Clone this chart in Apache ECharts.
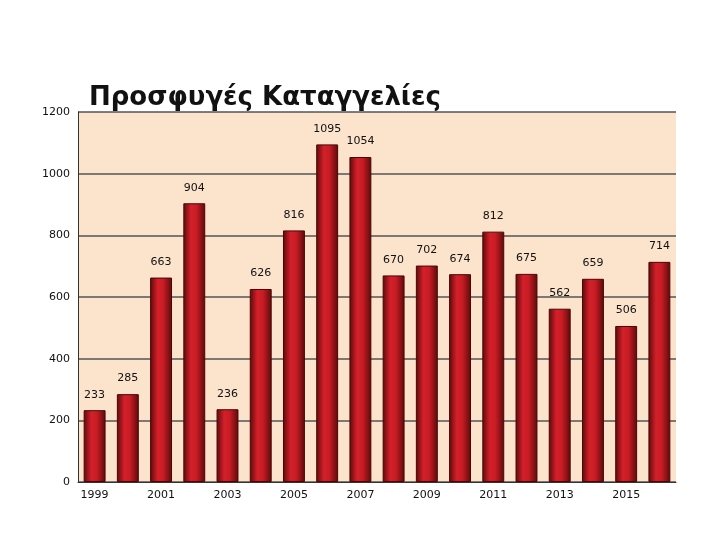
<!DOCTYPE html>
<html><head><meta charset="utf-8">
<script src="https://cdn.jsdelivr.net/npm/echarts@6/dist/echarts.min.js"></script>
<style>html,body{margin:0;background:#fff}#c{width:709px;height:550px}</style>
</head><body><div id="c"></div>
<script>
const years=['1999','2000','2001','2002','2003','2004','2005','2006','2007','2008','2009','2010','2011','2012','2013','2014','2015','2016'];
const values=[233,285,663,904,236,626,816,1095,1054,670,702,674,812,675,562,659,506,714];
const yTicks=[0,200,400,600,800,1000,1200];
const chart=echarts.init(document.getElementById('c'));
chart.setOption({
 animation:false,
 title:{text:'Προσφυγές Καταγγελίες',left:84,top:80,textStyle:{fontFamily:'DejaVu Sans',fontWeight:'bold',fontSize:26,color:'#111'}},
 grid:{left:78,right:33,top:112,bottom:68,backgroundColor:'#fbe3cc',show:true,borderWidth:0},
 xAxis:{type:'category',data:years,axisTick:{show:false},axisLine:{lineStyle:{color:'#333'}},
  axisLabel:{color:'#111',fontSize:11,fontFamily:'DejaVu Sans'}},
 yAxis:{type:'value',min:0,max:1200,interval:200,axisLine:{show:true,lineStyle:{color:'#333'}},
  axisLabel:{color:'#111',fontSize:11,fontFamily:'DejaVu Sans',formatter:v=>yTicks.includes(v)?String(v):''},
  splitLine:{lineStyle:{color:'#555',width:1.5}}},
 series:[{type:'bar',data:values,barWidth:'66%',
  itemStyle:{borderColor:'#4a0606',borderWidth:1,
   color:new echarts.graphic.LinearGradient(0,0,1,0,[{offset:0,color:'#5c0a0a'},{offset:0.35,color:'#d4202a'},{offset:0.6,color:'#c81c24'},{offset:1,color:'#5c0a0a'}])},
  label:{show:true,position:'top',distance:10,color:'#111',fontSize:11,fontFamily:'DejaVu Sans'}}]
});
</script></body></html>
